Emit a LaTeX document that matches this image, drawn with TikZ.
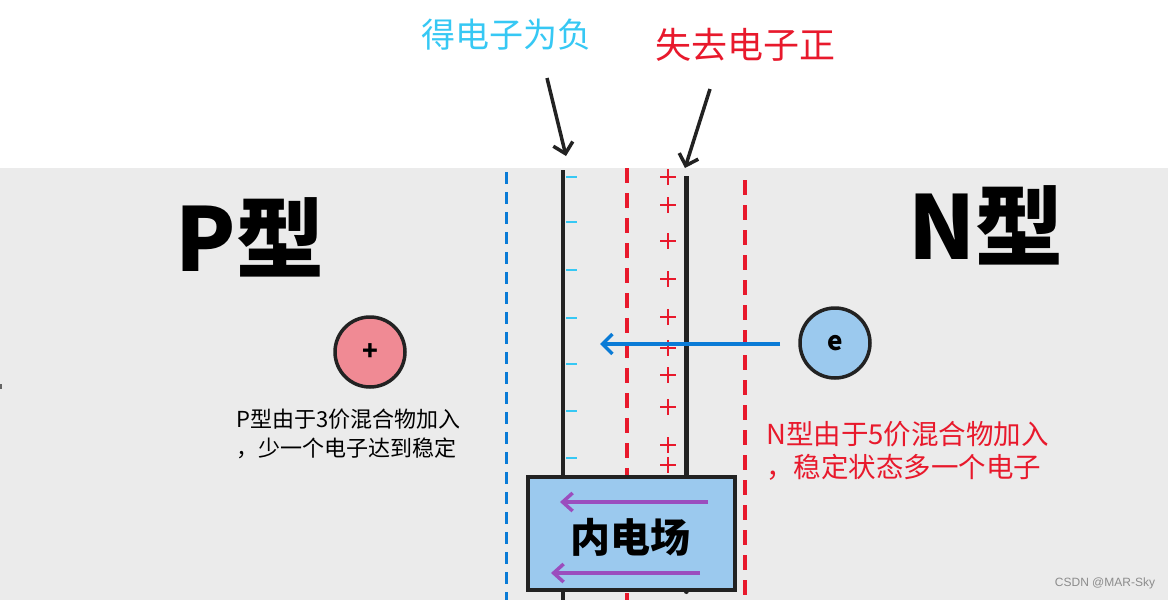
\documentclass[tikz,border=0pt]{standalone}
\usepackage{fontspec}
\setmainfont{Noto Sans CJK SC}
\newfontfamily\cjk{Noto Sans CJK SC}
\usetikzlibrary{arrows.meta}
\definecolor{bggray}{HTML}{EBEBEB}
\definecolor{cyantxt}{HTML}{36C8F4}
\definecolor{redc}{HTML}{E8192C}
\definecolor{bluec}{HTML}{0A7BD6}
\definecolor{purplec}{HTML}{9B4DBE}
\definecolor{boxfill}{HTML}{9BC9EE}
\definecolor{pinkc}{HTML}{F08A94}
\definecolor{inkc}{HTML}{222222}
\tikzset{
  bluedash/.style={bluec, line width=3pt, dash pattern=on 12pt off 8pt},
  reddash/.style={redc, line width=3.5pt, dash pattern=on 15pt off 10pt},
  minusmark/.style={cyantxt, line width=2.5pt},
  plusmark/.style={redc, line width=2.3pt},
  pointer/.style={inkc, line width=3.5pt, -{Straight Barb[length=10pt,width=20pt,line width=3.5pt]}},
  particle/.style={circle, draw=inkc, line width=3.5pt, minimum size=70pt, inner sep=0pt, font=\cjk\bfseries\fontsize{26}{26}\selectfont},
  fieldarrow/.style={purplec, line width=3.5pt, -{Straight Barb[length=10pt,width=18pt,line width=3.5pt]}},
}
\begin{document}
\begin{tikzpicture}[x=1pt,y=-1pt]
\useasboundingbox (0,0) rectangle (1168,600);
\fill[white] (0,0) rectangle (1168,168);
\fill[bggray] (0,168) rectangle (1168,600);

% dashed boundaries
\coordinate (bt) at (506,172); \coordinate (bb) at (506,600);
\draw[bluedash] (bt) -- (bb);
\coordinate (r1t) at (627,168); \coordinate (r1b) at (627,600);
\draw[reddash] (r1t) -- (r1b);
\coordinate (r2t) at (745,180); \coordinate (r2b) at (745,600);
\draw[reddash] (r2t) -- (r2b);

% box
\node[draw=inkc, line width=3.5pt, fill=boxfill, minimum width=207pt, minimum height=113pt, inner sep=0pt, anchor=north west] (box) at (526,475) {};
\node[font=\cjk\bfseries\fontsize{40}{40}\selectfont] (boxtxt) at (630,537) {内电场};
\coordinate (fa1s) at (708,502); \coordinate (fa1e) at (560,502);
\draw[fieldarrow] (fa1s) -- (fa1e);
\coordinate (fa2s) at (700,573); \coordinate (fa2e) at (551,573);
\draw[fieldarrow] (fa2s) -- (fa2e);

% plates
\coordinate (pt) at (563,170);
\draw[inkc, line width=3.5pt] (pt) -- (box.north -| pt);
\draw[inkc, line width=3.5pt] (box.south -| pt) -- (563,600);
\coordinate (nt) at (686,176);
\draw[inkc, line width=5pt] (nt) -- (box.north -| nt);
\draw[inkc, line width=5pt, line cap=round] (box.south -| nt) -- (686,591);

% minus marks
\foreach \yy in {177,222,270,318,364,411,458}
  \draw[minusmark] (566,\yy) -- (577,\yy);
% plus marks
\foreach \yy in {177,205,241,279,317,348,375,407,445,465}
  \draw[plusmark] (660,\yy) -- (676,\yy) (668,\yy-8) -- (668,\yy+8);

% carrier arrow
\node[particle, fill=boxfill] (e) at (835,343) {e};
\coordinate (earr) at (600,344);
\draw[bluec, line width=3.5pt, -{Straight Barb[length=10pt,width=20pt,line width=3.5pt]}] (780,344) -- (earr);
\node[particle, fill=pinkc] (h) at (370,352) {+};

% big labels
\node[font=\cjk\bfseries\fontsize{88}{88}\selectfont, anchor=center] (ptype) at (250,237) {P型};
\node[font=\cjk\bfseries\fontsize{88}{88}\selectfont, anchor=center] (ntype) at (986,225) {N型};

% descriptions
\node[font=\cjk\fontsize{22}{29}\selectfont, align=left, anchor=north west, inner sep=0pt] (ptxt) at (236,409) {P型由于3价混合物加入\\，少一个电子达到稳定};
\node[font=\cjk\fontsize{27.5}{33}\selectfont, text=redc, align=left, anchor=north west, inner sep=0pt] (ntxt) at (766,421) {N型由于5价混合物加入\\，稳定状态多一个电子};

% top labels
\node[font=\cjk\fontsize{34}{34}\selectfont, text=cyantxt] (gain) at (506,35) {得电子为负};
\node[font=\cjk\fontsize{36}{36}\selectfont, text=redc] (lose) at (745,45) {失去电子正};
\coordinate (ga) at (547,78); \coordinate (gb) at (566,156);
\draw[pointer] (ga) -- (gb);
\coordinate (la) at (710,89); \coordinate (lb) at (685,168);
\draw[pointer] (la) -- (lb);

% stray mark and watermark
\fill[inkc!70] (0,384) rectangle (2,389);
\node[font=\fontspec{Liberation Sans}\fontsize{12}{12}\selectfont, text=black!45] (wm) at (1105,583) {CSDN @MAR-Sky};
\end{tikzpicture}
\end{document}
